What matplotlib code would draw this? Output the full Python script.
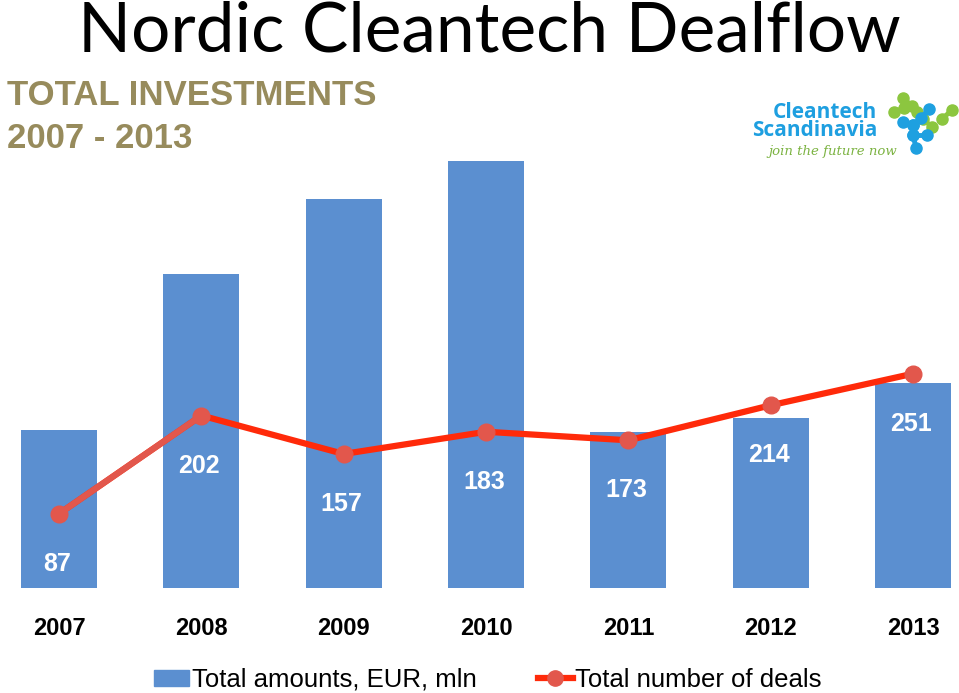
import matplotlib.pyplot as plt
import numpy as np
from matplotlib.lines import Line2D
from matplotlib.patches import Patch

# data
years = ['2007', '2008', '2009', '2010', '2011', '2012', '2013']
amounts = [395, 785, 973, 1068, 390, 425, 513]   # Total amounts, EUR, mln
deals = [87, 202, 157, 183, 173, 214, 251]        # Total number of deals

bar_color = '#5b8fd0'
line_color = '#ff2a0a'
marker_color = '#e2574c'

plt.rcParams['font.family'] = ['Liberation Sans', 'DejaVu Sans']

fig = plt.figure(figsize=(9.59, 6.93), dpi=100)
ax = fig.add_axes([0, 1 - 588 / 693, 1, 438 / 693])
x = np.arange(len(years))

ax.bar(x, amounts, width=0.535, color=bar_color, zorder=1)
ax.set_xlim(-0.415, 6.323)
ax.set_ylim(0, 1068 * 438 / 427)

ax2 = ax.twinx()
ax2.set_ylim(0, 513)
ax2.plot(x, deals, color=line_color, lw=4.5, solid_capstyle='round', zorder=2)
ax2.plot(x[:2], deals[:2], color=marker_color, lw=4.5, solid_capstyle='round', zorder=3)
ax2.plot(x, deals, 'o', color=marker_color, ms=12, zorder=4)

for xi, d in zip(x, deals):
    ax2.annotate(str(d), (xi, d), xytext=(-2, -50), textcoords='offset pixels',
                 ha='center', va='center', color='white', fontsize=18,
                 fontweight='bold', zorder=5)

for a in (ax, ax2):
    a.set_yticks([])
    for s in a.spines.values():
        s.set_visible(False)
ax.set_xticks(x)
ax.set_xticklabels(years, fontsize=17, fontweight='bold')
ax.tick_params(axis='x', length=0, pad=21)

# legend
handles = [Patch(color=bar_color),
           Line2D([], [], color=line_color, lw=4.5, marker='o', ms=11,
                  markerfacecolor=marker_color, markeredgecolor=marker_color)]
fig.legend(handles, ['Total amounts, EUR, mln', 'Total number of deals'],
           loc='center', bbox_to_anchor=(0.509, 1 - 680 / 693), ncol=2, frameon=False,
           fontsize=18.5, handlelength=1.35, handleheight=0.6, handletextpad=0.1,
           columnspacing=2.4)

# titles
fig.text(0.51, 1 - 32 / 693, 'Nordic Cleantech Dealflow', ha='center', va='center',
         fontsize=50, family=['Lato', 'DejaVu Sans'], color='black')
fig.text(7 / 959, 1 - 105 / 693, 'TOTAL INVESTMENTS', ha='left', va='baseline',
         fontsize=25, fontweight='bold', color='#978b5c')
fig.text(7 / 959, 1 - 148 / 693, '2007 - 2013', ha='left', va='baseline',
         fontsize=25, fontweight='bold', color='#978b5c')

# logo (pixel coordinates overlay)
lg = fig.add_axes([0, 0, 1, 1], zorder=10)
lg.set_xlim(0, 959)
lg.set_ylim(693, 0)
lg.axis('off')
lg.text(877, 112, 'Cleantech', ha='right', va='center', fontsize=15,
        fontweight='bold', color='#1e9fe0', family=['Open Sans', 'DejaVu Sans'])
lg.text(877, 131, 'Scandinavia', ha='right', va='center', fontsize=15,
        fontweight='bold', color='#1e9fe0', family=['Open Sans', 'DejaVu Sans'])
lg.text(768, 152, 'join the future now', ha='left', va='center',
        fontsize=9.5, style='italic', color='#7cb342', family=['DejaVu Serif'])
green_chains = [[(903, 98), (912, 106), (917, 112)],
                [(894, 112), (904, 108)],
                [(923, 119), (932, 127)],
                [(942, 119), (952, 110)]]
blue_chains = [[(929, 109), (921, 118), (913, 125), (903, 122)],
               [(913, 125), (913, 135), (927, 135)],
               [(913, 135), (916, 148)]]
for chain in green_chains:
    cx, cy = zip(*chain)
    lg.plot(cx, cy, color='#8cc63f', lw=3.5, marker='o', ms=8, solid_capstyle='round')
for chain in blue_chains:
    cx, cy = zip(*chain)
    lg.plot(cx, cy, color='#1ea0e0', lw=3.5, marker='o', ms=8, solid_capstyle='round')

fig.savefig('out.png', dpi=100)
